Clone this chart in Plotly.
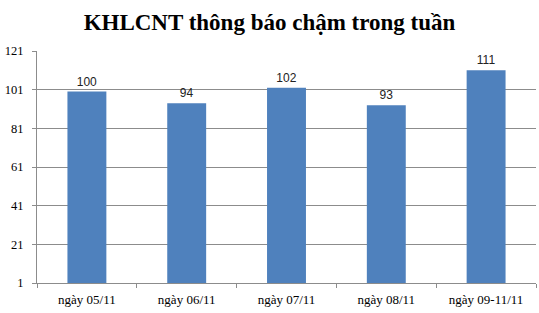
import plotly.graph_objects as go

categories = ["ngày 05/11", "ngày 06/11", "ngày 07/11", "ngày 08/11", "ngày 09-11/11"]
values = [100, 94, 102, 93, 111]
y_ticks = [1, 21, 41, 61, 81, 101, 121]

fig = go.Figure(go.Bar(
    x=categories, y=values,
    marker=dict(color="#4F81BD", line=dict(width=0)),
    text=[str(v) for v in values], textposition="outside",
    textfont=dict(family="Liberation Sans", size=12, color="#222"),
    cliponaxis=False,
))

fig.update_layout(
    width=539, height=313,
    margin=dict(l=37, r=3, t=51, b=30),
    paper_bgcolor="white", plot_bgcolor="white",
    bargap=0.61,
    showlegend=False,
    title=dict(text="<b>KHLCNT thông báo chậm trong tuần</b>",
               x=0.5, xanchor="center", y=0.93, yanchor="middle",
               font=dict(family="Liberation Serif", size=23, color="black")),
)
fig.update_yaxes(
    range=[1, 121], tickvals=y_ticks, ticktext=[str(t) for t in y_ticks],
    showgrid=True, gridcolor="#8c8c8c", gridwidth=1,
    showline=True, linecolor="#8c8c8c", ticks="outside", ticklen=4, tickcolor="#8c8c8c",
    ticklabelstandoff=6,
    tickfont=dict(family="Liberation Serif", size=12.5, color="black"),
    zeroline=False,
)
fig.update_xaxes(
    showline=True, linecolor="#8c8c8c", ticks="outside", ticklen=4, tickcolor="#8c8c8c",
    tickson="boundaries", ticklabelstandoff=4,
    tickfont=dict(family="Liberation Serif", size=13, color="black"),
)
fig.write_html("out.html")
